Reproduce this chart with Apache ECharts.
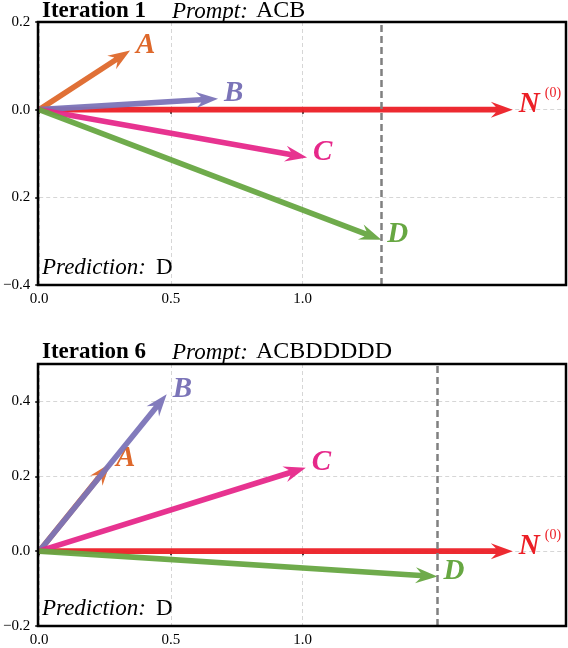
<!DOCTYPE html>
<html>
<head>
<meta charset="utf-8">
<script src="https://cdn.jsdelivr.net/npm/echarts@6/dist/echarts.min.js"></script>
<style>html,body{margin:0;padding:0;background:#fff;}#c{width:568px;height:648px;}</style>
</head>
<body>
<div id="c"></div>
<script>
// ---- data ----
var arrowNames = ["N", "A", "B", "C", "D"];
var arrowColors = ["#ec1f26", "#de682b", "#7b74b8", "#e6288a", "#67a742"];
// Iteration 1 tips (x, y)
var iter1X = [1.798, 0.345, 0.679, 1.017, 1.299];
var iter1Y = [0.000, 0.135, 0.025, -0.109, -0.297];
// Iteration 6 tips (x, y)
var iter6X = [1.798, 0.269, 0.484, 1.012, 1.512];
var iter6Y = [0.000, 0.234, 0.419, 0.223, -0.068];
var xTickVals = [0, 0.5, 1.0];
var xTickText = ["0.0", "0.5", "1.0"];
var y1TickVals = [-0.4, -0.2, 0.0, 0.2];
var y1TickText = ["\u22120.4", "0.2", "0.0", "0.2"];
var y6TickVals = [-0.2, 0.0, 0.2, 0.4];
var y6TickText = ["\u22120.2", "0.0", "0.2", "0.4"];
var iterTitles = ["Iteration 1", "Iteration 6"];
var prompts = ["ACB", "ACBDDDDD"];
var predictions = ["D", "D"];

var SERIF = "'Liberation Serif', 'Times New Roman', serif";
var GRIDS = [
  {left: 38, top: 22, width: 528, height: 263},
  {left: 38, top: 364, width: 528, height: 262}
];

function makeData(xs, ys) {
  return xs.map(function (x, i) { return [x, ys[i], i]; });
}

function renderArrow(params, api) {
  var x = api.value(0), y = api.value(1), idx = api.value(2);
  var p0 = api.coord([0, 0]), p1 = api.coord([x, y]);
  var dx = p1[0] - p0[0], dy = p1[1] - p0[1];
  var L = Math.sqrt(dx * dx + dy * dy);
  var ux = dx / L, uy = dy / L, nx = -uy, ny = ux;
  var sw = 2.8, hl = 22, hal = 17, hw = 8;
  function P(a, b) { return [p0[0] + ux * a + nx * b, p0[1] + uy * a + ny * b]; }
  var pts = [P(0, sw), P(L - hal, sw), P(L - hl, hw), [p1[0], p1[1]], P(L - hl, -hw), P(L - hal, -sw), P(0, -sw)];
  var color = arrowColors[idx];
  var name = arrowNames[idx];
  var children = [{
    type: 'polygon', shape: {points: pts}, style: {fill: color, opacity: 0.95}
  }, {
    type: 'text', x: p1[0] + 6, y: p1[1] - 5,
    style: {text: name, fill: color, font: "italic bold 29px " + SERIF, verticalAlign: 'middle', align: 'left'}
  }];
  if (name === "N") {
    children.push({
      type: 'text', x: p1[0] + 32, y: p1[1] - 16,
      style: {text: "(0)", fill: color, font: "14px " + SERIF, verticalAlign: 'middle', align: 'left'}
    });
  }
  return {type: 'group', children: children};
}

function xAxisCfg(gi) {
  return {
    type: 'value', gridIndex: gi, min: 0, max: 2,
    axisLine: {show: false},
    axisTick: {show: true, inside: false, length: 4, lineStyle: {color: '#000', width: 1.5}, customValues: xTickVals},
    axisLabel: {color: '#000', fontFamily: SERIF, fontSize: 15, margin: 7, customValues: xTickVals,
      formatter: function (v) { var i = xTickVals.indexOf(v); return i >= 0 ? xTickText[i] : ''; }},
    splitLine: {show: true, lineStyle: {color: '#d6d6d6', type: [4, 3], width: 1}}
  };
}
function yAxisCfg(gi, mn, mx, vals, texts) {
  return {
    type: 'value', gridIndex: gi, min: mn, max: mx,
    axisLine: {show: false},
    axisTick: {show: true, inside: false, length: 4, lineStyle: {color: '#000', width: 1.5}, customValues: vals},
    axisLabel: {color: '#000', fontFamily: SERIF, fontSize: 15, margin: 9, customValues: vals,
      formatter: function (v) {
        for (var i = 0; i < vals.length; i++) { if (Math.abs(vals[i] - v) < 1e-9) return texts[i]; }
        return '';
      }},
    splitLine: {show: true, lineStyle: {color: '#d6d6d6', type: [4, 3], width: 1}}
  };
}

function arrowSeries(gi, xs, ys) {
  return {
    type: 'custom', xAxisIndex: gi, yAxisIndex: gi, clip: false,
    data: makeData(xs, ys), renderItem: renderArrow,
    markLine: {
      silent: true, symbol: ['none', 'none'], label: {show: false},
      lineStyle: {color: '#808080', width: 2.5, type: [7, 4]},
      data: [{xAxis: xs[arrowNames.indexOf("D")]}]
    }
  };
}

function txt(text, left, top, style, weight, size) {
  return {
    left: left, top: top, padding: 0, text: text,
    textStyle: {fontFamily: SERIF, fontStyle: style, fontWeight: weight, fontSize: size, color: '#000'}
  };
}

var titleList = [];
var titleTops = [-4, 337];
var predTops = [256, 597];
for (var k = 0; k < 2; k++) {
  titleList.push(txt(iterTitles[k], 42, titleTops[k] + 4, 'normal', 'bold', 23));
  titleList.push(txt("Prompt:", 172, titleTops[k] + 4, 'italic', 'normal', 23));
  titleList.push(txt(prompts[k], 256, titleTops[k] + 3, 'normal', 'normal', 24));
  titleList.push(txt("Prediction:", 42, predTops[k], 'italic', 'normal', 23));
  titleList.push(txt(predictions[k], 156, predTops[k], 'normal', 'normal', 23));
}

var frames = GRIDS.map(function (g) {
  return {
    type: 'rect', z: 100, silent: true,
    shape: {x: g.left, y: g.top, width: g.width, height: g.height},
    style: {fill: 'none', stroke: '#000', lineWidth: 2.5}
  };
});

var chart = echarts.init(document.getElementById('c'), null, {renderer: 'canvas'});
chart.setOption({
  animation: false,
  backgroundColor: '#fff',
  title: titleList,
  graphic: frames,
  grid: GRIDS.map(function (g) { return {left: g.left, top: g.top, width: g.width, height: g.height, show: false}; }),
  xAxis: [xAxisCfg(0), xAxisCfg(1)],
  yAxis: [yAxisCfg(0, -0.4, 0.2, y1TickVals, y1TickText), yAxisCfg(1, -0.2, 0.5, y6TickVals, y6TickText)],
  series: [arrowSeries(0, iter1X, iter1Y), arrowSeries(1, iter6X, iter6Y)]
});
</script>
</body>
</html>
